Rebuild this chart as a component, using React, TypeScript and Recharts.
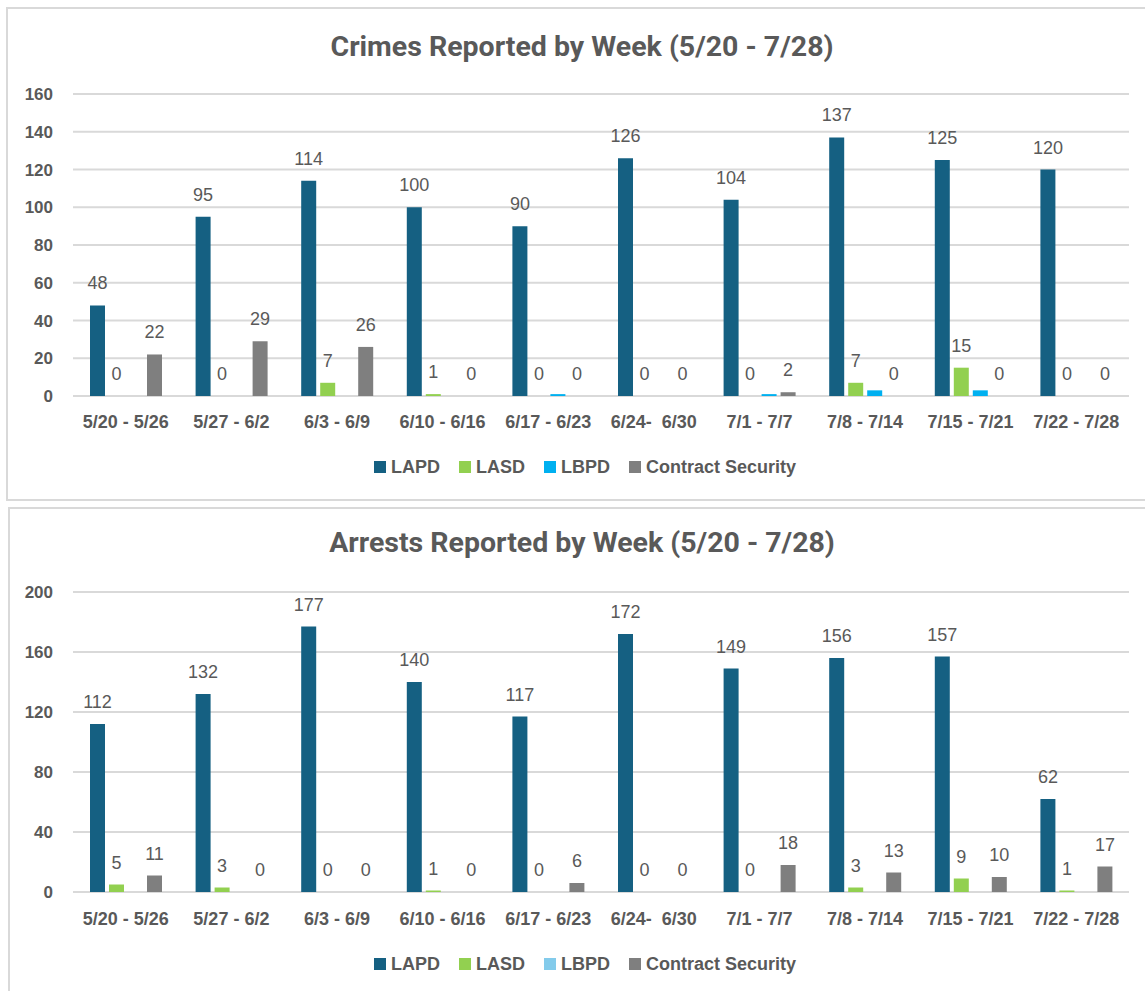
import React from 'react';
import { BarChart, Bar, XAxis, YAxis, CartesianGrid, LabelList } from 'recharts';

const weeks = ['5/20 - 5/26', '5/27 - 6/2', '6/3 - 6/9', '6/10 - 6/16', '6/17 - 6/23', '6/24-\u00a0 6/30', '7/1 - 7/7', '7/8 - 7/14', '7/15 - 7/21', '7/22 - 7/28'];

const crimesLAPD = [48, 95, 114, 100, 90, 126, 104, 137, 125, 120];
const crimesLASD = [0, 0, 7, 1, 0, 0, 0, 7, 15, 0];
const crimesLBPD = [0, 0, 0, 0, 1, 0, 1, 3, 3, 0];
const crimesContract = [22, 29, 26, 0, 0, 0, 2, 0, 0, 0];
const crimesTicks = [0, 20, 40, 60, 80, 100, 120, 140, 160];

const arrestsLAPD = [112, 132, 177, 140, 117, 172, 149, 156, 157, 62];
const arrestsLASD = [5, 3, 0, 1, 0, 0, 0, 3, 9, 1];
const arrestsLBPD = [0, 0, 0, 0, 0, 0, 0, 0, 0, 0];
const arrestsContract = [11, 0, 0, 0, 6, 0, 18, 13, 10, 17];
const arrestsTicks = [0, 40, 80, 120, 160, 200];

const LAPD_COLOR = '#156082';
const LASD_COLOR = '#92D050';
const CONTRACT_COLOR = '#7F7F7F';
const TEXT = '#595959';
const GRID = '#D9D9D9';
const FONT = '"Liberation Sans", Arial, sans-serif';

const LegendRow = ({ top, lbpdColor }: { top: number, lbpdColor: string }) => {
  const items = [
    { name: 'LAPD', color: LAPD_COLOR },
    { name: 'LASD', color: LASD_COLOR },
    { name: 'LBPD', color: lbpdColor },
    { name: 'Contract Security', color: CONTRACT_COLOR },
  ];
  return (
    <div style={{ position: 'absolute', left: 0, top, width: 1170, height: 20, display: 'flex', justifyContent: 'center', alignItems: 'center' }}>
      {items.map((it, i) => (
        <div key={it.name} style={{ display: 'flex', alignItems: 'center', marginRight: i < items.length - 1 ? 19 : 0 }}>
          <span style={{ width: 12, height: 12, background: it.color, marginRight: 5, display: 'inline-block' }} />
          <span style={{ fontFamily: FONT, fontWeight: 700, fontSize: 18, color: TEXT, lineHeight: '20px' }}>{it.name}</span>
        </div>
      ))}
    </div>
  );
};

interface PanelProps {
  top: number;
  height: number;
  title: string;
  titleTop: number;
  legendTop: number;
  marginTop: number;
  marginBottom: number;
  tickMargin: number;
  lapd: number[];
  lasd: number[];
  lbpd: number[];
  contract: number[];
  ticks: number[];
  lbpdColor: string;
}

const WeeklyPanel = (p: PanelProps) => {
  const data = weeks.map((week, i) => ({
    week,
    LAPD: p.lapd[i],
    LASD: p.lasd[i],
    LBPD: p.lbpd[i],
    Contract: p.contract[i],
  }));
  const labelStyle = { fill: TEXT, fontSize: 18, fontFamily: FONT };
  const tickStyle = { fill: TEXT, fontSize: 18, fontWeight: 700, fontFamily: FONT };
  return (
    <div style={{ position: 'absolute', left: 0, top: p.top, width: 1145, height: p.height }}>
      <div style={{ position: 'absolute', left: 0, top: p.titleTop, width: 1164, textAlign: 'center', fontFamily: 'Roboto, sans-serif', fontWeight: 700, fontSize: 28.5, lineHeight: '28px', color: TEXT }}>
        {p.title}
      </div>
      <BarChart width={1145} height={p.height} data={data} barGap={4} barSize={15}
        margin={{ top: p.marginTop, right: 16, left: 0, bottom: p.marginBottom }}
        style={{ fontFamily: FONT }}>
        <CartesianGrid vertical={false} stroke={GRID} strokeWidth={2} />
        <XAxis dataKey="week" axisLine={false} tickLine={false} tickSize={0} tickMargin={p.tickMargin} height={30} interval={0}
          tick={tickStyle} />
        <YAxis domain={[0, p.ticks[p.ticks.length - 1]]} ticks={p.ticks} axisLine={false} tickLine={false} tickSize={0} tickMargin={20} width={73}
          tick={{ ...tickStyle, fontSize: 17 }} />
        <Bar dataKey="LAPD" fill={LAPD_COLOR} isAnimationActive={false}>
          <LabelList dataKey="LAPD" position="top" offset={16} style={labelStyle} />
        </Bar>
        <Bar dataKey="LASD" fill={LASD_COLOR} minPointSize={0.01} isAnimationActive={false}>
          <LabelList dataKey="LASD" position="top" offset={16} style={labelStyle} />
        </Bar>
        <Bar dataKey="LBPD" fill={p.lbpdColor} isAnimationActive={false} />
        <Bar dataKey="Contract" fill={CONTRACT_COLOR} minPointSize={0.01} isAnimationActive={false}>
          <LabelList dataKey="Contract" position="top" offset={16} style={labelStyle} />
        </Bar>
      </BarChart>
      <LegendRow top={p.legendTop} lbpdColor={p.lbpdColor} />
    </div>
  );
};

export default function App() {
  return (
    <div style={{ position: 'absolute', left: 0, top: 0, width: 1145, height: 991, overflow: 'hidden', background: '#fff' }}>
      <div style={{ position: 'absolute', left: 6, top: 7, width: 1200, height: 494, border: `2px solid ${GRID}`, boxSizing: 'border-box' }} />
      <div style={{ position: 'absolute', left: 8, top: 507, width: 1200, height: 520, border: `2px solid ${GRID}`, boxSizing: 'border-box' }} />
      <WeeklyPanel top={0} height={500} title="Crimes Reported by Week (5/20 - 7/28)" titleTop={33} legendTop={457}
        marginTop={94} marginBottom={74} tickMargin={19}
        lapd={crimesLAPD} lasd={crimesLASD} lbpd={crimesLBPD} contract={crimesContract} ticks={crimesTicks} lbpdColor="#00B0F0" />
      <WeeklyPanel top={500} height={491} title="Arrests Reported by Week (5/20 - 7/28)" titleTop={29} legendTop={454}
        marginTop={92} marginBottom={69} tickMargin={20}
        lapd={arrestsLAPD} lasd={arrestsLASD} lbpd={arrestsLBPD} contract={arrestsContract} ticks={arrestsTicks} lbpdColor="#83CBEB" />
    </div>
  );
}
